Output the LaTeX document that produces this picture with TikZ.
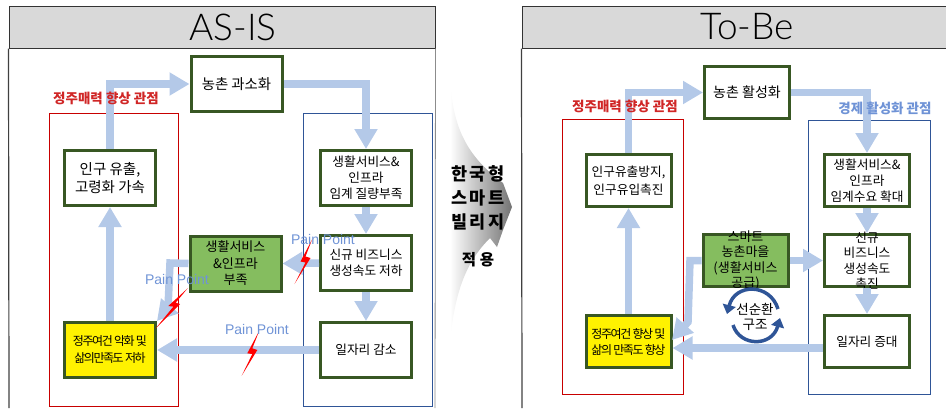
\documentclass[tikz,border=0pt]{standalone}
\usepackage{fontspec}
\setmainfont{Noto Sans CJK KR}
\newfontfamily\tightfont[LetterSpace=-12]{Noto Sans CJK KR}
\newfontfamily\widefont[LetterSpace=15]{Noto Sans CJK KR}
\newfontfamily\painfont{Liberation Sans}
\newfontfamily\titlefont{Lato Light}
\usetikzlibrary{positioning}
\usetikzlibrary{arrows.meta}
\definecolor{boxgreen}{HTML}{385723}
\definecolor{fillgreen}{HTML}{85BD5F}
\definecolor{arrowblue}{HTML}{B4C9E8}
\definecolor{framered}{HTML}{C80000}
\definecolor{frameblue}{HTML}{2F5597}
\definecolor{painblue}{HTML}{6F93D6}
\tikzset{
    mynode/.style = {rectangle, line width=3pt, draw=boxgreen, fill=white, align=center, inner sep=0pt,
        minimum width=91pt, minimum height=55pt, font=\fontsize{12.7}{16}\selectfont},
    mynodeg/.style = {mynode, fill=fillgreen},
    mynodey/.style = {mynode, fill=yellow, font=\fontsize{12}{17}\selectfont\tightfont},
    tonode/.style = {minimum width=85pt, minimum height=52pt},
    header/.style = {rectangle, draw=black!80, line width=1pt, fill=black!15, inner sep=0pt,
        minimum width=426pt, minimum height=42pt},
    htext/.style = {font=\fontsize{37}{37}\selectfont\titlefont},
    framer/.style = {rectangle, draw=framered, line width=0.8pt},
    frameb/.style = {rectangle, draw=frameblue, line width=0.8pt},
    edgen/.style = {-{Triangle[width=22pt,length=20pt]}, line width=7.5pt, arrowblue},
    edgec/.style = {-{Triangle[width=13pt,length=9pt]}, line width=3.5pt, frameblue},
    bolt/.style = {fill=red},
    pain/.style = {painblue, font=\fontsize{14}{14}\selectfont\painfont},
    viewr/.style = {text=framered!85, font=\fontsize{13.5}{13.5}\selectfont\bfseries},
    viewb/.style = {text=painblue, font=\fontsize{13.5}{13.5}\selectfont\bfseries},
    midtext/.style = {font=\fontsize{17.5}{17.5}\selectfont\widefont\bfseries}
}

\begin{document}
\begin{tikzpicture}[x=1pt,y=-1pt]
\useasboundingbox (0,0) rectangle (946,408);
%
% as-is panel
\node[header,label={[htext,xshift=11pt]center:AS-IS}] at (222,27) (headl) {};
\draw[black!75,line width=1.2pt] (headl.south west) -- (9,408);
\draw[black!45,line width=0.8pt] (headl.south east) -- (435,408);
\node[framer,minimum width=129pt,minimum height=293pt] at (113.5,259.5) (redl) {};
\node[frameb,minimum width=129pt,minimum height=293pt] at (367.5,259.5) (bluel) {};
%
\node[mynode,font=\fontsize{14.4}{16}\selectfont] at (236.5,84) (topl) {농촌 과소화};
\node[mynode,font=\fontsize{14.5}{18}\selectfont] at (110,178) (popl) {인구 유출,\\고령화 가속};
\node[mynode] at (366,178) (svcl) {생활서비스\&\\인프라\\임계 질량부족};
\node[mynode] at (366,263) (bizl) {신규 비즈니스\\생성속도 저하};
\node[mynode] at (366,350) (jobl) {일자리 감소};
\node[mynodey] at (110,350) (yell) {정주여건 악화 및\\삶의만족도 저하};
\node[mynodeg,font=\fontsize{13}{16.5}\selectfont] at (235.5,263.5) (grnl) {생활서비스\\\&인프라\\부족};
%
\draw[edgen] (popl.north) |- (topl.west);
\draw[edgen] (topl.east) -| (svcl.north);
\draw[edgen] (svcl.south) -- (bizl.north);
\draw[edgen] (bizl.south) -- (jobl.north);
\draw[edgen] (bizl.west) -- (grnl.east);
\draw[edgen] (yell.north) -- (popl.south);
\draw[edgen] (jobl.west) -- (yell.east);
\draw[edgen] (grnl.west) -- (170,263) -- (168,308) -- (yell.north east);
%
\fill[bolt] (312.3,239) -- (300.5,261.5) -- (305.5,262.5) -- (294.5,284) -- (310.5,258) -- (305.5,256.5) -- cycle;
\fill[bolt] (187.7,288.3) -- (168.3,306) -- (173.3,306.7) -- (155.7,328.3) -- (180,304) -- (175.7,302.7) -- cycle;
\fill[bolt] (259.3,330.7) -- (247.3,353.3) -- (252.3,354) -- (241.7,375.7) -- (257.3,350) -- (252.3,348.3) -- cycle;
\node[pain] at (323,239) (painb) {Pain Point};
\node[pain] at (177,279) (paing) {Pain Point};
\node[pain] at (257,329) (painj) {Pain Point};
\node[viewr] at (106,98) (viewl) {정주매력 향상 관점};
%
% middle arrow
\shade[left color=white,right color=black!55,draw=none]
  (450,75) .. controls (452,125) and (465,155) .. (503,183) -- (512,207) -- (503,230) -- (497,247)
  -- (490,238) .. controls (470,258) and (455,285) .. (450,343) -- cycle;
\node[midtext,align=center] at (478,174) (mida) {한국형};
\node[midtext,align=center] at (478,198) (midb) {스마트};
\node[midtext,align=center] at (478,222) (midc) {빌리지};
\node[midtext,align=center,font=\fontsize{15.5}{15.5}\selectfont\bfseries] at (478,260) (midd) {적 용};
%
% to-be panel
\node[header,minimum width=424pt,label={[htext,xshift=13pt]center:To-Be}] at (734,27) (headr) {};
\draw[black!75,line width=1.2pt] (headr.south west) -- (522,408);
\node[framer,minimum width=121pt,minimum height=275pt] at (622.5,256.5) (redr) {};
\node[frameb,minimum width=122pt,minimum height=274pt] at (869,257) (bluer) {};
%
\node[mynode,tonode,font=\fontsize{14}{16}\selectfont] at (747,92.5) (topr) {농촌 활성화};
\node[mynode,tonode,font=\fontsize{12.7}{18}\selectfont] at (628.5,180.5) (popr) {인구유출방지,\\인구유입촉진};
\node[mynode,tonode] at (867,180.5) (svcr) {생활서비스\&\\인프라\\임계수요 확대};
\node[mynode,tonode,label={[align=center,font=\fontsize{12.7}{15.5}\selectfont]center:신규\\비즈니스\\생성속도\\촉진}] at (867,260.5) (bizr) {};
\node[mynode,tonode] at (867,341.5) (jobr) {일자리 증대};
\node[mynodey,tonode,font=\fontsize{12}{16}\selectfont\tightfont] at (628.5,341.5) (yelr) {정주여건 향상 및\\삶의 만족도 향상};
\node[mynodeg,tonode,label={[align=center,font=\fontsize{13}{15.5}\selectfont]center:스마트\\농촌마을\\(생활서비스\\공급)}] at (745.5,260.5) (grnr) {};
%
\draw[edgen] (popr.north) |- (topr.west);
\draw[edgen] (topr.east) -| (svcr.north);
\draw[edgen] (svcr.south) -- (bizr.north);
\draw[edgen] (bizr.south) -- (jobr.north);
\draw[edgen] (grnr.east) -- (bizr.west);
\draw[edgen] (yelr.north) -- (popr.south);
\draw[edgen] ([yshift=-6.5pt]jobr.west) -- ([yshift=-6.5pt]yelr.east);
\draw[edgen] (grnr.west) -- (690,260.5) -- (688,322) -- (672,340);
%
\node[viewr] at (625,106) (viewr) {정주매력 향상 관점};
\node[viewb] at (885,108) (viewe) {경제 활성화 관점};
%
\node[align=center,font=\fontsize{13.5}{15.5}\selectfont] at (755,317) (cyc) {선순환\\구조};
\draw[edgec] (778,309) .. controls (770,283) and (735,283) .. (727,314);
\draw[edgec] (733,325) .. controls (740,347) and (772,347) .. (780,318);
\end{tikzpicture}
\end{document}
